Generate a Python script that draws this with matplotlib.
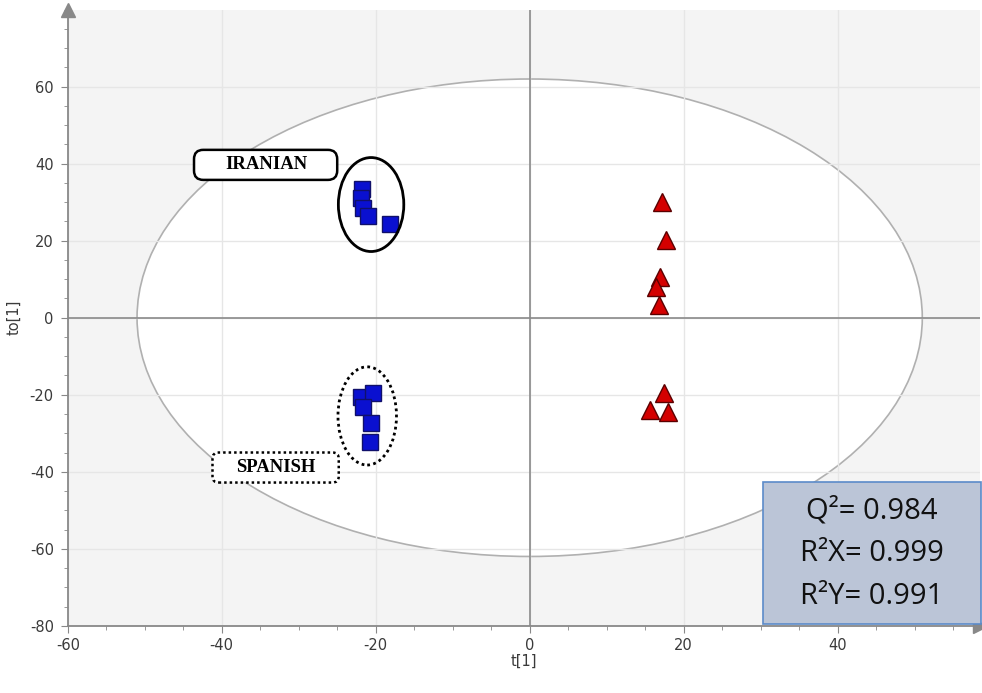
import matplotlib.pyplot as plt
from matplotlib.patches import Ellipse, Rectangle, FancyBboxPatch
from matplotlib.ticker import MultipleLocator

plt.rcParams['axes.unicode_minus'] = False

# scores (t[1], to[1])
iran_t = [-21.8, -21.9, -21.6, -21.0, -18.2]
iran_to = [33.5, 31.0, 28.5, 26.5, 24.4]
spain_t = [-21.9, -20.4, -21.7, -20.6, -20.8]
spain_to = [-20.5, -19.5, -23.1, -27.3, -32.2]
red_t = [17.2, 17.7, 16.9, 16.4, 16.8, 17.4, 15.6, 18.0]
red_to = [30.1, 20.3, 10.6, 8.1, 3.4, -19.5, -23.9, -24.4]
stats = ["Q²= 0.984", "R²X= 0.999", "R²Y= 0.991"]

fig = plt.figure(figsize=(9.82, 6.93), dpi=100)
ax = fig.add_axes([0.069, 0.097, 0.929, 0.889])
ax.set_facecolor('#f4f4f4')
ax.set_xlim(-60, 58.5)
ax.set_ylim(-80, 80)

ax.xaxis.set_major_locator(MultipleLocator(20))
ax.xaxis.set_minor_locator(MultipleLocator(5))
ax.yaxis.set_major_locator(MultipleLocator(20))
ax.yaxis.set_minor_locator(MultipleLocator(5))
ax.set_yticks(range(-80, 61, 20))
ax.grid(True, which='major', color='#e6e6e6', lw=1, zorder=0)

ax.add_patch(Ellipse((0, 0), 102, 124, facecolor='white', edgecolor='#b0b0b0',
                     lw=1.2, zorder=1))
ax.axhline(0, color='#8a8a8a', lw=1.2, zorder=2)
ax.axvline(0, color='#8a8a8a', lw=1.2, zorder=2)

for s in ['top', 'right']:
    ax.spines[s].set_visible(False)
for s in ['left', 'bottom']:
    ax.spines[s].set_color('#888888')
    ax.spines[s].set_linewidth(1.3)
ax.plot(0, 1, marker='^', color='#888888', markersize=10, transform=ax.transAxes, clip_on=False)
ax.plot(1, 0, marker='>', color='#888888', markersize=10, transform=ax.transAxes, clip_on=False)

ax.tick_params(which='both', colors='#888888', labelcolor='#3a3a3a', labelsize=10.5)
ax.tick_params(which='major', length=5)
ax.tick_params(which='minor', length=3)
ax.tick_params(axis='y', pad=5)
ax.set_xlabel('t[1]', fontsize=10.5, color='#3a3a3a', labelpad=1)
ax.set_ylabel('to[1]', fontsize=10.5, color='#3a3a3a', labelpad=6)

ax.plot(iran_t, iran_to, 's', color='#0a10d0', mec='#10106a', ms=11.5, zorder=5)
ax.plot(spain_t, spain_to, 's', color='#0a10d0', mec='#10106a', ms=11.5, zorder=5)
ax.plot(red_t, red_to, '^', color='#d40000', mec='#5a0000', ms=13, zorder=5)

ax.add_patch(Ellipse((-20.6, 29.4), 8.5, 24.4, facecolor='none', edgecolor='black',
                     lw=2, zorder=6))
ax.add_patch(Ellipse((-21.1, -25.5), 7.6, 25.5, facecolor='none', edgecolor='black',
                     lw=2, ls=(0, (1, 1.2)), zorder=6))

# label boxes
ax.add_patch(FancyBboxPatch((-43.6, 35.8), 18.6, 7.8,
                            boxstyle='round,pad=0,rounding_size=1.2',
                            mutation_aspect=2.0, fc='white', ec='black', lw=1.8, zorder=7))
ax.text(-34.2, 39.7, 'IRANIAN', family='Liberation Serif', weight='bold', fontsize=13.5,
        ha='center', va='center', zorder=8)
ax.add_patch(FancyBboxPatch((-41.2, -42.8), 16.4, 7.8,
                            boxstyle='round,pad=0,rounding_size=0.8',
                            mutation_aspect=2.0, fc='white', ec='black', lw=1.8,
                            ls=(0, (1, 1.2)), zorder=7))
ax.text(-33.0, -38.9, 'SPANISH', family='Liberation Serif', weight='bold', fontsize=13.5,
        ha='center', va='center', zorder=8)

# stats box
fig.add_artist(Rectangle((763 / 982, 1 - 624 / 693), 218 / 982, 142 / 693,
                         facecolor='#bbc5d7', edgecolor='#5b8bc9', lw=1.2,
                         transform=fig.transFigure, zorder=10))
for i, s in enumerate(stats):
    fig.text(872 / 982, 1 - (511 + 42.5 * i) / 693, s, ha='center', va='center',
             fontsize=21, family='Open Sans', color='#111111', zorder=11)

fig.savefig('out.png', dpi=100)
